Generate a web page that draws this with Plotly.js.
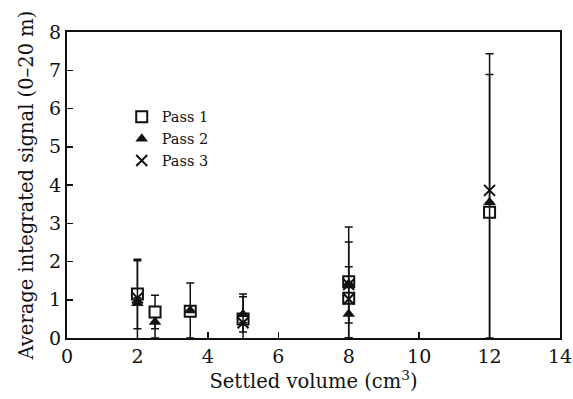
<!DOCTYPE html>
<html>
<head>
<meta charset="utf-8">
<script src="https://cdn.plot.ly/plotly-3.0.1.min.js"></script>
<style>html,body{margin:0;padding:0;background:#fff;}#chart{width:573px;height:399px;}</style>
</head>
<body>
<div id="chart"></div>
<script>
// Settled volume (cm^3)
var pass1X = [2, 2.5, 3.5, 5, 8, 8, 12];
var pass1Y = [1.15, 0.68, 0.70, 0.50, 1.47, 1.04, 3.29];
var pass1Top = [2.06, 1.12, 1.44, 1.15, 2.90, 1.04, 6.89];
var pass1Bottom = [0.24, 0.24, 0.0, -0.15, 0.0, 1.04, -0.05];

var pass2X = [2, 2.5, 3.5, 5, 8, 8, 12];
var pass2Y = [0.91, 0.42, 0.72, 0.62, 1.42, 0.63, 3.55];
var pass2Top = [2.02, 0.42, 0.72, 1.08, 1.42, 1.86, 3.55];
var pass2Bottom = [-0.18, 0.0, 0.72, 0.16, 1.42, 0.39, 3.55];

var pass3X = [2, 5, 8, 8, 12];
var pass3Y = [1.05, 0.40, 1.40, 1.02, 3.86];
var pass3Top = [1.05, 0.40, 1.40, 2.51, 7.43];
var pass3Bottom = [1.05, 0.40, 1.40, 0.0, 0.0];

var names = ['Pass 1', 'Pass 2', 'Pass 3'];
var xTicks = [0, 2, 4, 6, 8, 10, 12, 14];
var yTicks = [0, 1, 2, 3, 4, 5, 6, 7, 8];

function plus(y, top) { return y.map(function (v, i) { return Math.max(top[i] - v, 0); }); }
function minus(y, bot) { return y.map(function (v, i) { return Math.max(v - bot[i], 0); }); }

var FONT = 'DejaVu Serif, serif';
function err(y, top, bot) {
  return {type: 'data', symmetric: false, array: plus(y, top), arrayminus: minus(y, bot),
          color: '#111', thickness: 1.5, width: 4};
}

var traces = [
  {x: pass1X, y: pass1Y, name: names[0], type: 'scatter', mode: 'markers', cliponaxis: false,
   marker: {symbol: 'square', size: 11, color: '#fff', line: {color: '#111', width: 2}},
   error_y: err(pass1Y, pass1Top, pass1Bottom)},
  {x: pass2X, y: pass2Y, name: names[1], type: 'scatter', mode: 'markers', cliponaxis: false,
   marker: {symbol: 'triangle-up', size: 11, color: '#111', line: {color: '#111', width: 0}},
   error_y: err(pass2Y, pass2Top, pass2Bottom)},
  {x: pass3X, y: pass3Y, name: names[2], type: 'scatter', mode: 'markers', cliponaxis: false,
   marker: {symbol: 'x-thin-open', size: 11, color: '#111', line: {color: '#111', width: 2}},
   error_y: err(pass3Y, pass3Top, pass3Bottom)}
];

var layout = {
  width: 573, height: 399,
  margin: {l: 67, r: 13, t: 32, b: 61},
  paper_bgcolor: '#fff', plot_bgcolor: '#fff',
  font: {family: FONT, size: 19, color: '#111'},
  showlegend: true,
  legend: {x: 0.111, y: 0.775, xanchor: 'left', yanchor: 'top', bgcolor: 'rgba(0,0,0,0)',
           font: {family: FONT, size: 14.5, color: '#111'}, itemwidth: 30, tracegroupgap: 0},
  xaxis: {range: [0, 14], tickvals: xTicks, ticktext: xTicks.map(String),
          showline: true, linewidth: 2, linecolor: '#111', mirror: true,
          ticks: 'inside', ticklen: 6, tickwidth: 1.5, tickcolor: '#111',
          showgrid: false, zeroline: false, ticklabeloverflow: 'allow',
          tickfont: {family: FONT, size: 19, color: '#111'},
          title: {text: 'Settled volume (cm<sup>3</sup>)', font: {family: FONT, size: 19.5, color: '#111'}, standoff: 6}},
  yaxis: {range: [0, 8], tickvals: yTicks, ticktext: yTicks.map(String),
          showline: true, linewidth: 2, linecolor: '#111', mirror: true,
          ticks: 'inside', ticklen: 6, tickwidth: 1.5, tickcolor: '#111',
          showgrid: false, zeroline: false,
          tickfont: {family: FONT, size: 19, color: '#111'},
          title: {text: 'Average integrated signal (0–20 m)', font: {family: FONT, size: 19.5, color: '#111'}, standoff: 10}}
};

Plotly.newPlot('chart', traces, layout, {displayModeBar: false, staticPlot: true});
</script>
</body>
</html>
